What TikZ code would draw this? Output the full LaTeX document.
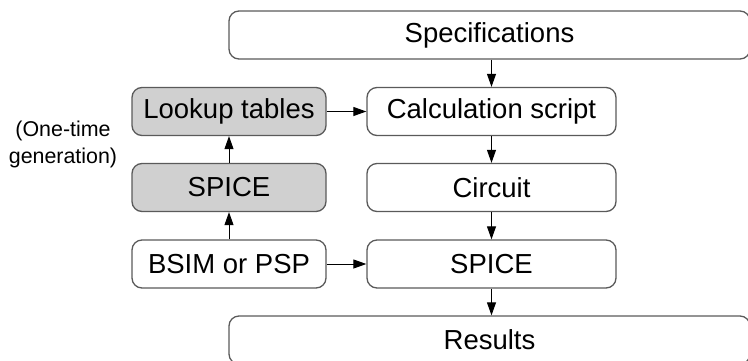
\documentclass[tikz,border=0pt]{standalone}
\usepackage{fontspec}
\setmainfont{Liberation Sans}
\usetikzlibrary{arrows.meta}
\definecolor{edge}{HTML}{5A5A5A}
\definecolor{shade}{HTML}{D0D0D0}
\begin{document}
\begin{tikzpicture}[x=1pt,y=-1pt,
  box/.style={draw=edge, line width=1.3pt, rounded corners=10pt, fill=white,
    minimum height=48pt, inner sep=0pt, font=\fontsize{27.5}{30}\selectfont},
  grey/.style={box, fill=shade},
  arr/.style={line width=1pt, -{Triangle[length=13pt,width=9pt]}},
  note/.style={font=\fontsize{21.4}{27}\selectfont, align=center, inner sep=0pt}]
\useasboundingbox (0,0) rectangle (748,360);
\clip (0,0) rectangle (748,360);
\node[box, minimum width=521pt] (spec) at (489.5,35) {Specifications};
\node[grey, minimum width=194pt] (lut) at (229,111.5) {Lookup tables};
\node[box, minimum width=249pt] (calc) at (491.5,111.5) {Calculation script};
\node[grey, minimum width=194pt] (spiceL) at (229,187.5) {SPICE};
\node[box, minimum width=249pt] (circ) at (491.5,187.5) {Circuit};
\node[box, minimum width=194pt] (bsim) at (229,264) {BSIM or PSP};
\node[box, minimum width=249pt] (spiceR) at (491.5,264) {SPICE};
\node[box, minimum width=521pt] (res) at (489.5,340) {Results};
\node[note] (gen) at (63,144.5) {(One-time\\generation)};
\draw[arr] (calc.north |- spec.south) -- (calc.north);
\draw[arr] (calc) -- (circ);
\draw[arr] (circ) -- (spiceR);
\draw[arr] (spiceR.south) -- (spiceR.south |- res.north);
\draw[arr] (lut) -- (calc);
\draw[arr] (spiceL) -- (lut);
\draw[arr] (bsim) -- (spiceL);
\draw[arr] (bsim) -- (spiceR);
\end{tikzpicture}
\end{document}
